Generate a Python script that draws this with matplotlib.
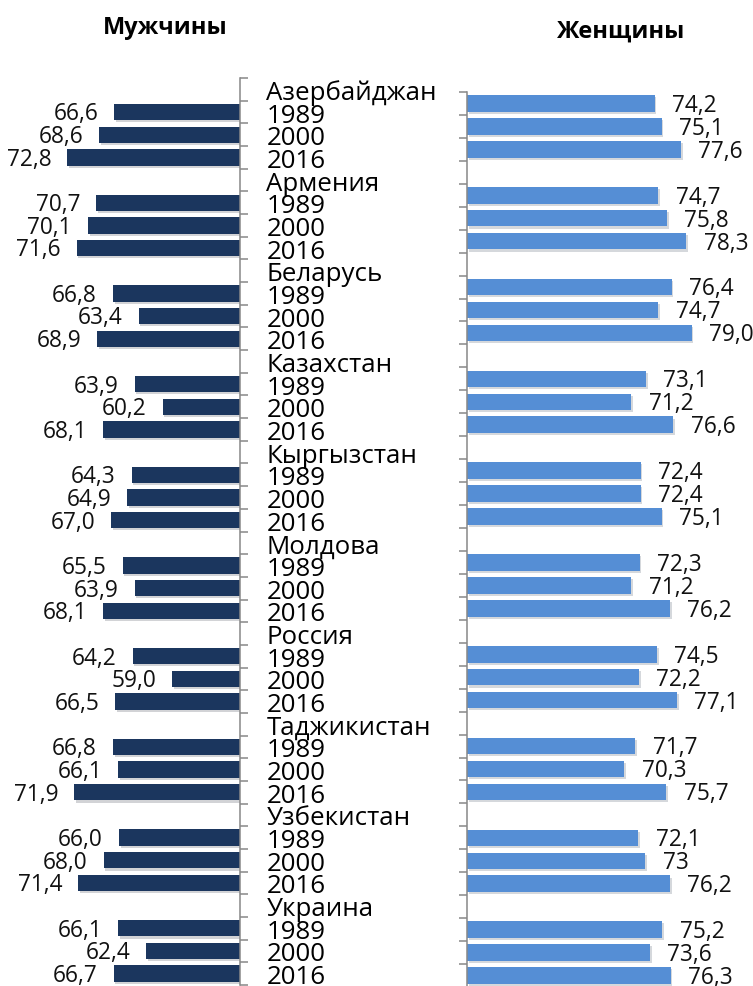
import numpy as np
import matplotlib.pyplot as plt
import matplotlib.patheffects as pe

plt.rcParams['font.family'] = ['Open Sans', 'DejaVu Sans']

countries = ['Азербайджан', 'Армения', 'Беларусь', 'Казахстан', 'Кыргызстан',
             'Молдова', 'Россия', 'Таджикистан', 'Узбекистан', 'Украина']
years = ['1989', '2000', '2016']

# bar lengths as drawn (Armenia 1989 bar is shorter than its label says)
men_vals = [66.6, 68.6, 72.8, 69.0, 70.1, 71.6, 66.8, 63.4, 68.9, 63.9, 60.2, 68.1,
            64.3, 64.9, 67.0, 65.5, 63.9, 68.1, 64.2, 59.0, 66.5, 66.8, 66.1, 71.9,
            66.0, 68.0, 71.4, 66.1, 62.4, 66.7]
men_labels = ['66,6', '68,6', '72,8', '70,7', '70,1', '71,6', '66,8', '63,4', '68,9',
              '63,9', '60,2', '68,1', '64,3', '64,9', '67,0', '65,5', '63,9', '68,1',
              '64,2', '59,0', '66,5', '66,8', '66,1', '71,9', '66,0', '68,0', '71,4',
              '66,1', '62,4', '66,7']
women_vals = [74.2, 75.1, 77.6, 74.7, 75.8, 78.3, 76.4, 74.7, 79.0, 73.1, 71.2, 76.6,
              72.4, 72.4, 75.1, 72.3, 71.2, 76.2, 74.5, 72.2, 77.1, 71.7, 70.3, 75.7,
              72.1, 73.0, 76.2, 75.2, 73.6, 76.3]
women_labels = ['74,2', '75,1', '77,6', '74,7', '75,8', '78,3', '76,4', '74,7', '79,0',
                '73,1', '71,2', '76,6', '72,4', '72,4', '75,1', '72,3', '71,2', '76,2',
                '74,5', '72,2', '77,1', '71,7', '70,3', '75,7', '72,1', '73', '76,2',
                '75,2', '73,6', '76,3']

# category slots: country name, then the three years
cat_labels = []
bar_pos = []
for i, c in enumerate(countries):
    cat_labels.append(c)
    cat_labels += years
    bar_pos += [4 * i + 1, 4 * i + 2, 4 * i + 3]
n = len(cat_labels)

W, H = 753, 987
fig = plt.figure(figsize=(W / 100, H / 100), dpi=100)

men_col = '#1b365e'
women_col = '#558ed5'
spine_col = '#888888'
shadow = [pe.SimplePatchShadow(offset=(1.2, -1.5), alpha=0.18), pe.Normal()]

# men: bars extend left from axis
ax1 = fig.add_axes([13 / W, 1 - 986 / H, 227 / W, 907 / H])
bars = ax1.barh(bar_pos, [v - 50 for v in men_vals], left=50, height=0.72,
                color=men_col)
for b in bars:
    b.set_path_effects(shadow)
ax1.set_xlim(80, 50)
ax1.set_ylim(n - 0.5, -0.5)
for p, v, lab in zip(bar_pos, men_vals, men_labels):
    ax1.annotate(lab, (v, p), xytext=(-11.5, -1), textcoords='offset points',
                 ha='right', va='center', fontsize=16.3, color='#111111')
ax1.yaxis.tick_right()
ax1.set_yticks(np.arange(-0.5, n, 1))
ax1.set_yticklabels([])
ax1.set_yticks(np.arange(n), minor=True)
ax1.set_yticklabels(cat_labels, minor=True, fontsize=18.6)
ax1.tick_params(axis='y', which='major', length=6, width=1.1, color=spine_col, direction='out')
ax1.tick_params(axis='y', which='minor', length=0, pad=19)
ax1.set_xticks([])
for s in ['left', 'top', 'bottom']:
    ax1.spines[s].set_visible(False)
ax1.spines['right'].set_color(spine_col)
ax1.spines['right'].set_linewidth(1.1)

# women: bars extend right from axis
ax2 = fig.add_axes([467 / W, 1 - 988 / H, 232.5 / W, 895 / H])
bars = ax2.barh(bar_pos, [v - 50 for v in women_vals], left=50, height=0.72,
                color=women_col)
for b in bars:
    b.set_path_effects(shadow)
ax2.set_xlim(50, 80)
ax2.set_ylim(n - 0.5, 0.5)
for p, v, lab in zip(bar_pos, women_vals, women_labels):
    ax2.annotate(lab, (v, p), xytext=(12.5, -1), textcoords='offset points',
                 ha='left', va='center', fontsize=16.3, color='#111111')
ax2.set_yticks(np.arange(0.5, n, 1))
ax2.set_yticklabels([])
ax2.tick_params(axis='y', length=6, width=1.1, color=spine_col, direction='out')
ax2.set_xticks([])
for s in ['right', 'top', 'bottom']:
    ax2.spines[s].set_visible(False)
ax2.spines['left'].set_color(spine_col)
ax2.spines['left'].set_linewidth(1.1)

fig.text(165 / W, 1 - 28 / H, 'Мужчины', ha='center', va='center',
         fontsize=17, fontweight='bold')
fig.text(621 / W, 1 - 32 / H, 'Женщины', ha='center', va='center',
         fontsize=17, fontweight='bold')

fig.savefig('out.png', dpi=100)
